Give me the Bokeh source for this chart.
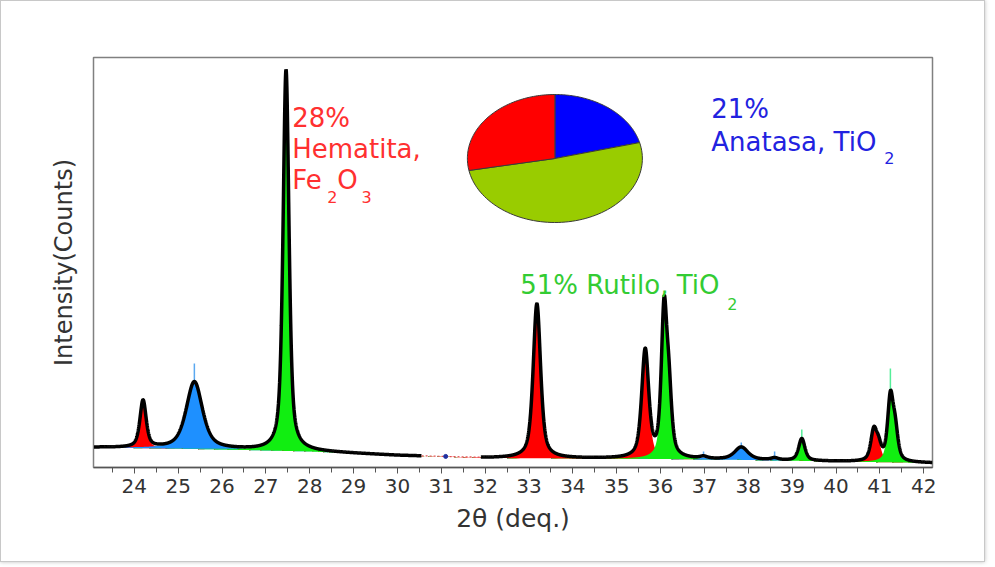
import numpy as np
from bokeh.plotting import figure
from bokeh.models import Range1d, FixedTicker
from bokeh.core.properties import value
from bokeh.embed import file_html
from bokeh.resources import INLINE

# ---------------- data ----------------
tick_values = list(range(24, 43))
minor_values = [t + 0.5 for t in range(23, 42)]

# background (counts) at a few 2-theta positions
baseline_x = [23.07, 26.0, 28.0, 30.0, 32.0, 34.0, 36.0, 38.0, 40.0, 42.2]
baseline_y = [200, 180, 160, 120, 95, 90, 85, 75, 60, 45]

# reflections: position, height above background, FWHM, phase, group
peak_pos    = [24.20, 25.37, 27.46, 33.18, 35.65, 36.08, 36.19, 36.98, 37.84, 38.60, 39.22, 40.86, 40.97, 41.24, 41.35]
peak_height = [470,   670,   3810,  1545,  1075,  1430,  590,   20,    125,   20,    220,   290,   140,   620,   290]
peak_fwhm   = [0.17,  0.44,  0.16,  0.20,  0.19,  0.15,  0.15,  0.20,  0.36,  0.20,  0.17,  0.16,  0.16,  0.15,  0.15]
peak_phase  = ["H",   "A",   "R",   "H",   "H",   "R",   "R",   "A",   "A",   "A",   "R",   "H",   "H",   "R",   "R"]
peak_group  = [0,     1,     2,     3,     4,     5,     5,     6,     7,     8,     9,     10,    10,    11,    11]

# reflection markers (2-theta, top of the marker in counts, phase)
marker_pos   = [25.37, 36.08, 39.22, 41.24, 36.98, 37.84, 38.60]
marker_top   = [1040,  1730,  380,   990,   160,   250,   160]
marker_phase = ["A",   "R",   "R",   "R",   "A",   "A",   "A"]

# excluded region drawn as a red dotted segment
excluded_start, excluded_end, excluded_dot = 30.55, 31.90, 31.10

# phase fractions (pie), clockwise from the top
pie_names = ["Anatasa", "Rutilo", "Hematita"]
pie_pct = [21, 51, 28]
pie_colors = ["#0000ff", "#99cc00", "#ff0000"]

fill_colors = {"H": "#ff0000", "A": "#1e90ff", "R": "#11ee11"}
marker_colors = {"H": "#ff6666", "A": "#5aa8f0", "R": "#55ee99"}

# ---------------- model curves ----------------
def pvoigt(x, x0, h, w, eta=0.6):
    hw = w / 2.0
    d = (x - x0) / hw
    return h * (eta / (1 + d * d) + (1 - eta) * np.exp(-np.log(2) * d * d))

xs = np.linspace(23.07, 42.2, 5000)
base = np.interp(xs, baseline_x, baseline_y)
groups = {}
for x0, h, w, ph, g in zip(peak_pos, peak_height, peak_fwhm, peak_phase, peak_group):
    prof = pvoigt(xs, x0, h, w)
    if g in groups:
        groups[g] = (ph, groups[g][1] + prof)
    else:
        groups[g] = (ph, prof)
total = base.copy()
for ph, prof in groups.values():
    total = total + prof

# ---------------- figure ----------------
p = figure(width=985, height=562, output_backend="svg", toolbar_location=None,
           x_range=Range1d(23.07, 42.2), y_range=Range1d(0, 4100),
           min_border_left=92, min_border_right=54, min_border_top=56, min_border_bottom=96,
           background_fill_color="white", border_fill_color="white")
p.styles = {"border": "1px solid #c8c8c8", "box-shadow": "0px 0px 4px rgba(0,0,0,0.25)"}
p.grid.visible = False
p.outline_line_color = "#808080"
p.outline_line_width = 1.5

xa = p.xaxis[0]
xa.ticker = FixedTicker(ticks=tick_values, minor_ticks=minor_values)
xa.axis_label = "2θ (deq.)"
xa.axis_label_text_font = "DejaVu Sans"
xa.axis_label_text_font_size = "25px"
xa.axis_label_text_font_style = "normal"
xa.axis_label_text_color = "#333333"
xa.axis_label_standoff = 8
xa.major_label_text_font = "DejaVu Sans"
xa.major_label_text_font_size = "20px"
xa.major_label_text_color = "#333333"
xa.major_label_standoff = 5
xa.axis_line_color = "#555555"
xa.axis_line_width = 1.5
xa.major_tick_line_color = "#555555"
xa.minor_tick_line_color = "#555555"
xa.major_tick_in = 0
xa.major_tick_out = 6
xa.minor_tick_in = 0
xa.minor_tick_out = 5

ya = p.yaxis[0]
ya.ticker = FixedTicker(ticks=[])
ya.axis_label = "Intensity(Counts)"
ya.axis_label_text_font = "DejaVu Sans"
ya.axis_label_text_font_size = "24px"
ya.axis_label_text_font_style = "normal"
ya.axis_label_text_color = "#333333"
ya.axis_label_standoff = 16
ya.major_tick_line_color = None
ya.minor_tick_line_color = None
ya.axis_line_color = "#808080"

# filled phase contributions
for g in sorted(groups):
    ph, prof = groups[g]
    p.varea(x=xs, y1=base, y2=base + prof, fill_color=fill_colors[ph], fill_alpha=1.0)

# reflection markers
for mx, mt, mph in zip(marker_pos, marker_top, marker_phase):
    yb = float(np.interp(mx, xs, total))
    p.segment(x0=[mx], y0=[yb], x1=[mx], y1=[max(mt, yb)], line_color=marker_colors[mph], line_width=1.5)

# observed / calculated profile, black
mask_l = xs <= excluded_start
mask_r = xs >= excluded_end
p.line(xs[mask_l], total[mask_l], line_color="black", line_width=3.5)
p.line(xs[mask_r], total[mask_r], line_color="black", line_width=3.5)
mask_m = (~mask_l) & (~mask_r)
p.line(xs[mask_m], total[mask_m], line_color="#e05050", line_width=1.2, line_dash="2 2")
p.scatter([excluded_dot], [float(np.interp(excluded_dot, xs, total))], size=4, color="#2030a0")

# pie of phase fractions (ellipse in the data space)
cx, cy, ra, rb = 33.59, 3090, 1.995, 640
start = 90.0
for name, pct, col in zip(pie_names, pie_pct, pie_colors):
    t0 = start
    t1 = start - pct * 3.6
    tt = np.radians(np.linspace(t0, t1, 80))
    px_ = [cx] + list(cx + ra * np.cos(tt))
    py_ = [cy] + list(cy + rb * np.sin(tt))
    p.patch(px_, py_, fill_color=col, line_color="#3a3a3a", line_width=1)
    start = t1

# annotations
F = value("DejaVu Sans")
def txt(x, y, s, color, size):
    p.text(x=[x], y=[y], text=[s], text_color=color, text_font=F,
           text_font_size=value(size), text_baseline="alphabetic", text_align="left")

red_t, blue_t, green_t = "#ff3030", "#2222e0", "#33cc33"
txt(27.60, 3500, "28%", red_t, "26px")
txt(27.60, 3190, "Hematita,", red_t, "26px")
txt(27.60, 2880, "Fe", red_t, "26px")
txt(28.40, 2710, "2", red_t, "16px")
txt(28.63, 2880, "O", red_t, "26px")
txt(29.18, 2710, "3", red_t, "16px")

txt(37.155, 3590, "21%", blue_t, "26px")
txt(37.155, 3260, "Anatasa, TiO", blue_t, "26px")
txt(41.10, 3100, "2", blue_t, "16px")

txt(32.80, 1830, "51% Rutilo, TiO", green_t, "26px")
txt(37.52, 1640, "2", green_t, "16px")

open("out.html", "w").write(file_html(p, INLINE))
